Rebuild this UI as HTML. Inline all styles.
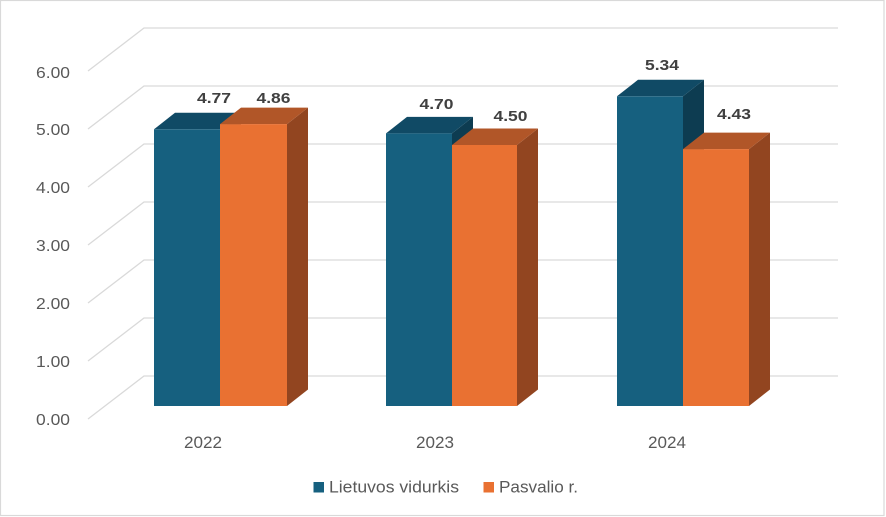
<!DOCTYPE html>
<html>
<head>
<meta charset="utf-8">
<style>
  html, body { margin: 0; padding: 0; background: #ffffff; }
  svg { display: block; }
  text { font-family: "Liberation Sans", sans-serif; }
</style>
</head>
<body>
<svg width="886" height="517" viewBox="0 0 886 517" xmlns="http://www.w3.org/2000/svg">
  <rect x="0" y="0" width="886" height="517" fill="#ffffff"/>
  <rect x="0.5" y="0.5" width="883.5" height="515" fill="none" stroke="#d9d9d9" stroke-width="1.2"/>

  <!-- gridlines -->
  <g fill="none" stroke="#d9d9d9" stroke-width="1.3">
    <polyline points="88,419 144,376 838,376"/>
    <polyline points="88,361 144,318 838,318"/>
    <polyline points="88,303 144,260 838,260"/>
    <polyline points="88,245 144,202 838,202"/>
    <polyline points="88,187 144,144 838,144"/>
    <polyline points="88,129 144,86 838,86"/>
    <polyline points="88,71 144,28 838,28"/>
  </g>

  <!-- y axis labels -->
  <g fill="#595959" font-size="16" text-anchor="end">
    <text x="70" y="425" textLength="34" lengthAdjust="spacingAndGlyphs">0.00</text>
    <text x="70" y="367" textLength="34" lengthAdjust="spacingAndGlyphs">1.00</text>
    <text x="70" y="309" textLength="34" lengthAdjust="spacingAndGlyphs">2.00</text>
    <text x="70" y="251" textLength="34" lengthAdjust="spacingAndGlyphs">3.00</text>
    <text x="70" y="193" textLength="34" lengthAdjust="spacingAndGlyphs">4.00</text>
    <text x="70" y="135" textLength="34" lengthAdjust="spacingAndGlyphs">5.00</text>
    <text x="70" y="78" textLength="34" lengthAdjust="spacingAndGlyphs">6.00</text>
  </g>

  <!-- bars: 2022 -->
  <g>
    <!-- blue 4.77 -->
    <polygon points="220,129.3 241,112.8 241,389.5 220,406" fill="#0d3c51"/>
    <polygon points="154,129.3 175,112.8 241,112.8 220,129.3" fill="#104a65"/>
    <rect x="154" y="129.3" width="66" height="276.7" fill="#16607f"/>
    <!-- orange 4.86 -->
    <polygon points="287,124.1 308,107.6 308,389.5 287,406" fill="#924520"/>
    <polygon points="220,124.1 241,107.6 308,107.6 287,124.1" fill="#b15628"/>
    <rect x="220" y="124.1" width="67" height="281.9" fill="#e97132"/>
  </g>

  <!-- bars: 2023 -->
  <g>
    <polygon points="452,133.4 473,116.9 473,389.5 452,406" fill="#0d3c51"/>
    <polygon points="386,133.4 407,116.9 473,116.9 452,133.4" fill="#104a65"/>
    <rect x="386" y="133.4" width="66" height="272.6" fill="#16607f"/>
    <polygon points="517,145 538,128.5 538,389.5 517,406" fill="#924520"/>
    <polygon points="452,145 473,128.5 538,128.5 517,145" fill="#b15628"/>
    <rect x="452" y="145" width="65" height="261" fill="#e97132"/>
  </g>

  <!-- bars: 2024 -->
  <g>
    <polygon points="683,96.3 704,79.8 704,389.5 683,406" fill="#0d3c51"/>
    <polygon points="617,96.3 638,79.8 704,79.8 683,96.3" fill="#104a65"/>
    <rect x="617" y="96.3" width="66" height="309.7" fill="#16607f"/>
    <polygon points="749,149.1 770,132.6 770,389.5 749,406" fill="#924520"/>
    <polygon points="683,149.1 704,132.6 770,132.6 749,149.1" fill="#b15628"/>
    <rect x="683" y="149.1" width="66" height="256.9" fill="#e97132"/>
  </g>

  <!-- data labels -->
  <g fill="#404040" font-size="14.5" font-weight="bold" text-anchor="middle">
    <text x="214" y="103" textLength="34" lengthAdjust="spacingAndGlyphs">4.77</text>
    <text x="273.5" y="103" textLength="34" lengthAdjust="spacingAndGlyphs">4.86</text>
    <text x="436.5" y="109" textLength="34" lengthAdjust="spacingAndGlyphs">4.70</text>
    <text x="510.5" y="121" textLength="34" lengthAdjust="spacingAndGlyphs">4.50</text>
    <text x="662" y="70" textLength="34" lengthAdjust="spacingAndGlyphs">5.34</text>
    <text x="734" y="119" textLength="34" lengthAdjust="spacingAndGlyphs">4.43</text>
  </g>

  <!-- category labels -->
  <g fill="#595959" font-size="16.5" text-anchor="middle">
    <text x="203" y="448" textLength="38" lengthAdjust="spacingAndGlyphs">2022</text>
    <text x="435" y="448" textLength="38" lengthAdjust="spacingAndGlyphs">2023</text>
    <text x="667" y="448" textLength="38" lengthAdjust="spacingAndGlyphs">2024</text>
  </g>

  <!-- legend -->
  <rect x="313.5" y="482" width="10.5" height="10.5" fill="#16607f"/>
  <text x="329" y="492.5" fill="#595959" font-size="16.5" textLength="130" lengthAdjust="spacingAndGlyphs">Lietuvos vidurkis</text>
  <rect x="483.5" y="482" width="10.5" height="10.5" fill="#e97132"/>
  <text x="499" y="492.5" fill="#595959" font-size="16.5" textLength="79" lengthAdjust="spacingAndGlyphs">Pasvalio r.</text>
</svg>
</body>
</html>
